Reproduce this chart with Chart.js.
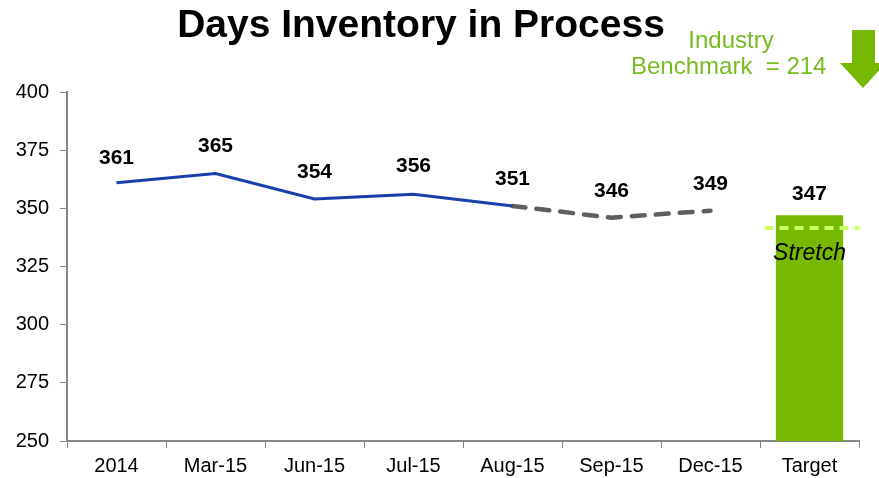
<!DOCTYPE html>
<html><head><meta charset="utf-8">
<script src="https://cdn.jsdelivr.net/npm/chart.js@4"></script>
<style>html,body{margin:0;padding:0;background:#fff}#w{width:879px;height:478px}</style>
</head><body><div id="w"><canvas id="c" width="879" height="478"></canvas></div>
<script>
const categories = ['2014','Mar-15','Jun-15','Jul-15','Aug-15','Sep-15','Dec-15','Target'];
const actualValues = [361,365,354,356,351,null,null,null];
const forecastValues = [null,null,null,null,351,346,349,null];
const targetValues = [null,null,null,null,null,null,null,347];
const labelValues = [361,365,354,356,351,346,349,347];
const stretchValue = 341.5;
const yTicks = [250,275,300,325,350,375,400];
const titleText = 'Days Inventory in Process';
const benchmarkLines = ['Industry','Benchmark  = 214'];

const FONT = '"Liberation Sans", Arial, sans-serif';
const GREEN = '#76b900';

const overlay = {
  id:'overlay',
  afterDatasetsDraw(chart){
    const {ctx, scales:{x,y}} = chart;
    ctx.save();
    // stretch line
    const sy = y.getPixelForValue(stretchValue);
    const cx = x.getPixelForValue(7);
    ctx.strokeStyle = '#ccff66';
    ctx.lineWidth = 4;
    ctx.setLineDash([9,6]);
    ctx.beginPath(); ctx.moveTo(cx-45, sy); ctx.lineTo(cx+50, sy); ctx.stroke();
    ctx.setLineDash([]);
    ctx.fillStyle = '#000';
    ctx.font = 'italic 23px ' + FONT;
    ctx.textAlign = 'center'; ctx.textBaseline = 'middle';
    ctx.fillText('Stretch', cx, sy + 25);
    // data labels
    ctx.font = 'bold 21px ' + FONT;
    ctx.textBaseline = 'alphabetic';
    const offs = [19,21,21,22,21,21,21,15];
    labelValues.forEach((v,i)=>{
      const px = x.getPixelForValue(i);
      const py = y.getPixelForValue(v);
      ctx.fillText(String(v), px, py - offs[i]);
    });
    // title
    ctx.font = 'bold 39px ' + FONT;
    ctx.fillText(titleText, 421, 37);
    // benchmark
    ctx.fillStyle = '#77bb22';
    ctx.font = '24px ' + FONT;
    ctx.fillText(benchmarkLines[0], 731, 48);
    ctx.textAlign = 'left';
    ctx.fillText(benchmarkLines[1], 631, 74);
    // arrow
    ctx.fillStyle = GREEN;
    ctx.beginPath();
    ctx.moveTo(852,30); ctx.lineTo(875,30); ctx.lineTo(875,63); ctx.lineTo(886,63);
    ctx.lineTo(863,88); ctx.lineTo(840,63); ctx.lineTo(852,63); ctx.closePath();
    ctx.fill();
    ctx.restore();
  }
};

new Chart(document.getElementById('c'), {
  data:{
    labels: categories,
    datasets:[
      {type:'bar', data:targetValues, backgroundColor:GREEN, borderWidth:0, categoryPercentage:1, barPercentage:0.68, order:3},
      {type:'line', data:actualValues, borderColor:'#1a3faa', borderWidth:3, pointRadius:0, tension:0, spanGaps:false, order:1},
      {type:'line', data:forecastValues, borderColor:'#5f5f5f', borderWidth:4.5, borderDash:[13,11], borderCapStyle:'round', pointRadius:0, tension:0, order:2}
    ]
  },
  options:{
    responsive:false, animation:false, devicePixelRatio:1,
    layout:{padding:{top:92, right:20, left:0, bottom:0}},
    plugins:{legend:{display:false}, tooltip:{enabled:false}, title:{display:false}},
    scales:{
      x:{
        offset:true,
        grid:{display:true, drawOnChartArea:false, offset:true, tickLength:7, color:'#888'},
        border:{color:'#888', width:2},
        ticks:{color:'#000', font:{family:FONT, size:20}, padding:6, maxRotation:0},
        afterFit(s){ s.height = 37; }
      },
      y:{
        min:250, max:400,
        afterBuildTicks(s){ s.ticks = yTicks.map(v=>({value:v})); },
        grid:{display:true, drawOnChartArea:false, tickLength:7, color:'#888'},
        border:{color:'#888', width:2},
        ticks:{color:'#000', font:{family:FONT, size:20}, padding:11},
        afterFit(s){ s.width = 67; }
      }
    }
  },
  plugins:[overlay]
});
</script>
</body></html>
